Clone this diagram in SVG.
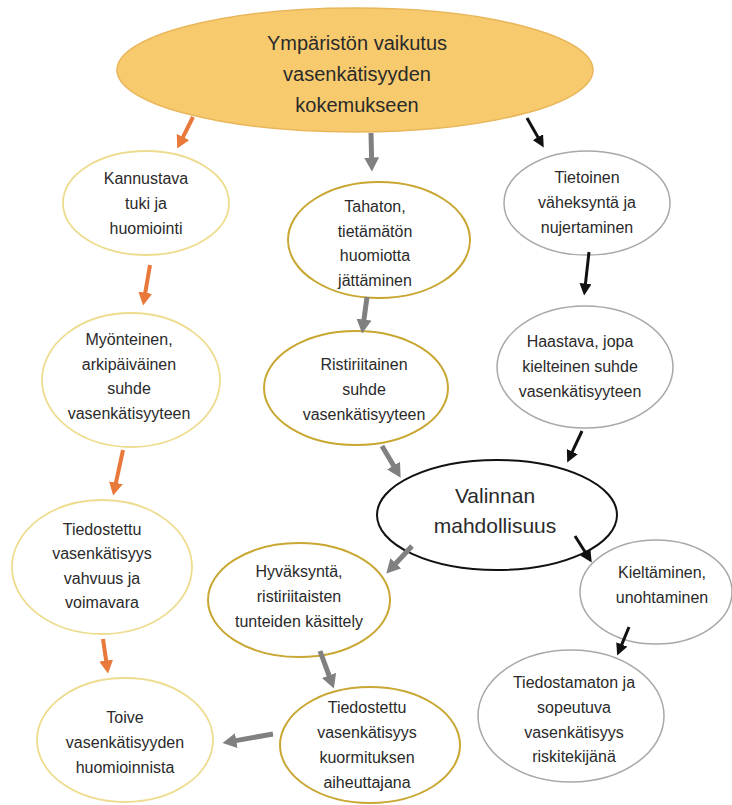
<svg xmlns="http://www.w3.org/2000/svg" width="732" height="805" viewBox="0 0 732 805">
<style>
  text { font-family: "Liberation Sans", Arial, sans-serif; fill: #2a2a2a; text-anchor: middle; }
  .t16 { font-size: 16px; }
  .t20 { font-size: 20px; }
  .t21 { font-size: 21px; }
  .top { fill: #F8CA6E; stroke: #E9B65A; stroke-width: 1.5; }
  .pale { fill: #ffffff; stroke: #EEDC8E; stroke-width: 1.8; }
  .gold { fill: #ffffff; stroke: #C9A733; stroke-width: 2; }
  .grey { fill: #ffffff; stroke: #A8A8A8; stroke-width: 1.5; }
  .black { fill: #ffffff; stroke: #111111; stroke-width: 2; }
  .ao { stroke: #E8793A; stroke-width: 4; fill: none; marker-end: url(#hO); }
  .ag { stroke: #808080; stroke-width: 5; fill: none; marker-end: url(#hG); }
  .ab { stroke: #111111; stroke-width: 3; fill: none; marker-end: url(#hB); }
</style>
<defs>
  <marker id="hO" viewBox="0 0 13 14" refX="0.5" refY="7" markerWidth="13" markerHeight="14" markerUnits="userSpaceOnUse" orient="auto">
    <path d="M0,0 L13,7 L0,14 z" fill="#E8793A"/>
  </marker>
  <marker id="hG" viewBox="0 0 14 15" refX="0.5" refY="7.5" markerWidth="14" markerHeight="15" markerUnits="userSpaceOnUse" orient="auto">
    <path d="M0,0 L14,7.5 L0,15 z" fill="#808080"/>
  </marker>
  <marker id="hB" viewBox="0 0 12 12" refX="0.5" refY="6" markerWidth="12" markerHeight="12" markerUnits="userSpaceOnUse" orient="auto">
    <path d="M0,0 L12,6 L0,12 z" fill="#111111"/>
  </marker>
</defs>
<rect width="732" height="805" fill="#ffffff"/>

<g id="n-top">
  <ellipse class="top" cx="355" cy="70" rx="238" ry="62"/>
  <text class="t20" x="357" y="50">Ympäristön vaikutus</text>
  <text class="t20" x="357" y="81">vasenkätisyyden</text>
  <text class="t20" x="357" y="112">kokemukseen</text>
</g>

<g id="n-kannustava">
  <ellipse class="pale" cx="146" cy="203" rx="83" ry="52"/>
  <text class="t16" x="146" y="184">Kannustava</text>
  <text class="t16" x="146" y="209">tuki ja</text>
  <text class="t16" x="146" y="234">huomiointi</text>
</g>

<g id="n-myonteinen">
  <ellipse class="pale" cx="131" cy="380" rx="89" ry="67"/>
  <text class="t16" x="129" y="345">Myönteinen,</text>
  <text class="t16" x="129" y="370">arkipäiväinen</text>
  <text class="t16" x="129" y="394">suhde</text>
  <text class="t16" x="129" y="419">vasenkätisyyteen</text>
</g>

<g id="n-tiedostettu-vahvuus">
  <ellipse class="pale" cx="102" cy="567" rx="90" ry="67"/>
  <text class="t16" x="102" y="535">Tiedostettu</text>
  <text class="t16" x="102" y="559">vasenkätisyys</text>
  <text class="t16" x="102" y="584">vahvuus ja</text>
  <text class="t16" x="102" y="608">voimavara</text>
</g>

<g id="n-toive">
  <ellipse class="pale" cx="125" cy="740" rx="88" ry="62"/>
  <text class="t16" x="125" y="723">Toive</text>
  <text class="t16" x="125" y="748">vasenkätisyyden</text>
  <text class="t16" x="125" y="773">huomioinnista</text>
</g>

<g id="n-tahaton">
  <ellipse class="gold" cx="379" cy="240" rx="91" ry="58"/>
  <text class="t16" x="375" y="212">Tahaton,</text>
  <text class="t16" x="375" y="237">tietämätön</text>
  <text class="t16" x="375" y="261">huomiotta</text>
  <text class="t16" x="375" y="286">jättäminen</text>
</g>

<g id="n-ristiriitainen">
  <ellipse class="gold" cx="356" cy="388" rx="92" ry="57"/>
  <text class="t16" x="364" y="370">Ristiriitainen</text>
  <text class="t16" x="364" y="395">suhde</text>
  <text class="t16" x="364" y="420">vasenkätisyyteen</text>
</g>

<g id="n-valinnan">
  <ellipse class="black" cx="497" cy="515" rx="120" ry="55"/>
  <text class="t21" x="495" y="503">Valinnan</text>
  <text class="t21" x="495" y="533">mahdollisuus</text>
</g>

<g id="n-hyvaksynta">
  <ellipse class="gold" cx="299" cy="600" rx="91" ry="57"/>
  <text class="t16" x="299" y="577">Hyväksyntä,</text>
  <text class="t16" x="299" y="602">ristiriitaisten</text>
  <text class="t16" x="299" y="627">tunteiden käsittely</text>
</g>

<g id="n-tiedostettu-kuormitus">
  <ellipse class="gold" cx="370" cy="745" rx="90" ry="58"/>
  <text class="t16" x="367" y="713">Tiedostettu</text>
  <text class="t16" x="367" y="738">vasenkätisyys</text>
  <text class="t16" x="367" y="763">kuormituksen</text>
  <text class="t16" x="367" y="788">aiheuttajana</text>
</g>

<g id="n-tietoinen">
  <ellipse class="grey" cx="587" cy="203" rx="83" ry="52"/>
  <text class="t16" x="587" y="183">Tietoinen</text>
  <text class="t16" x="587" y="208">väheksyntä ja</text>
  <text class="t16" x="587" y="233">nujertaminen</text>
</g>

<g id="n-haastava">
  <ellipse class="grey" cx="585" cy="367" rx="88" ry="61"/>
  <text class="t16" x="580" y="347">Haastava, jopa</text>
  <text class="t16" x="580" y="372">kielteinen suhde</text>
  <text class="t16" x="580" y="397">vasenkätisyyteen</text>
</g>

<g id="n-kieltaminen">
  <ellipse class="grey" cx="656" cy="592" rx="76" ry="52"/>
  <text class="t16" x="662" y="578">Kieltäminen,</text>
  <text class="t16" x="662" y="603">unohtaminen</text>
</g>

<g id="n-tiedostamaton">
  <ellipse class="grey" cx="571" cy="716" rx="93" ry="66"/>
  <text class="t16" x="574" y="688">Tiedostamaton ja</text>
  <text class="t16" x="574" y="713">sopeutuva</text>
  <text class="t16" x="574" y="738">vasenkätisyys</text>
  <text class="t16" x="574" y="762">riskitekijänä</text>
</g>

<g id="connectors">
  <path class="ao" d="M193,117 L182.8,137.4"/>
  <path class="ao" d="M150,265 L145.2,293.2"/>
  <path class="ao" d="M123,450 L115.8,483.3"/>
  <path class="ao" d="M103,639 L106.2,661.1"/>

  <path class="ag" d="M371,133 L371.6,158"/>
  <path class="ag" d="M367,297 L363.9,320.1"/>
  <path class="ag" d="M382,446 L393.8,466"/>
  <path class="ag" d="M412,546 L395.5,563.7"/>
  <path class="ag" d="M320,651 L329.2,675.9"/>
  <path class="ag" d="M273,734 L235.8,740.6"/>

  <path class="ab" d="M527,118 L538.1,137.6"/>
  <path class="ab" d="M589,252 L585.4,284.1"/>
  <path class="ab" d="M582,431 L572.1,452.1"/>
  <path class="ab" d="M575,536 L585.6,552.8"/>
  <path class="ab" d="M629,627 L621.6,644.9"/>
</g>
</svg>
